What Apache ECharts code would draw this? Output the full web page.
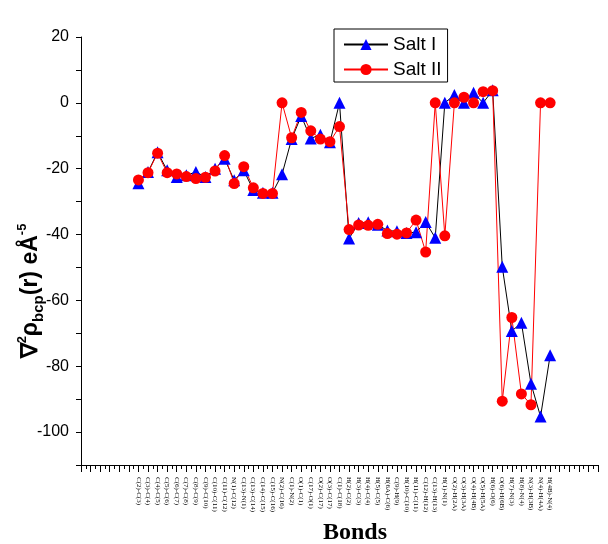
<!DOCTYPE html>
<html>
<head>
<meta charset="utf-8">
<script src="https://cdn.jsdelivr.net/npm/echarts@6/dist/echarts.min.js"></script>
<style>html,body{margin:0;padding:0;background:#fff;}#c{width:608px;height:544px;}</style>
</head>
<body>
<div id="c"></div>
<script>
const bonds = [
 'C(2)-C(3)','C(3)-C(4)','C(4)-C(5)','C(5)-C(6)','C(6)-C(7)','C(7)-C(8)','C(8)-C(9)','C(9)-C(10)',
 'C(10)-C(11)','C(11)-C(12)','N(1)-C(12)','C(13)-N(1)','C(13)-C(14)','C(14)-C(15)','C(15)-C(16)','N(2)-C(16)',
 'C(1)-N(2)','O(1)-C(1)','C(17)-O(1)','O(2)-C(17)','O(3)-C(17)','C(1)-C(18)','H(2)-C(2)','H(3)-C(3)',
 'H(4)-C(4)','H(5)-C(5)','H(6A)-C(6)','C(9)-H(9)','H(10)-C(10)','H(11)-C(11)','C(12)-H(12)','C(13)-H(13)',
 'H(1)-N(1)','O(2)-H(2A)','O(3)-H(3A)','O(4)-H(4B)','O(5)-H(5A)','H(6)-O(6)','O(6)-H(6B)','H(7)-N(3)',
 'H(8)-N(4)','N(3)-H(3B)','N(4)-H(4A)','H(4B)-N(4)'
];
const saltI = [
 -24.4,-21,-15,-20.5,-22.5,-22,-21,-22.5,-20,-17,-23.5,-20.5,-26.5,-27.3,-27.3,-21.7,
 -11,-4,-10.8,-9.7,-12,0,-41.2,-36.5,-36.3,-37,-38.8,-39,-39.5,-39.3,-36.2,-41,
 0,2.4,0,3.1,0,3.8,-49.8,-69.3,-66.8,-85.3,-95.3,-76.7
];
const saltII = [
 -23.4,-21.2,-15.3,-21.2,-21.6,-22.4,-23,-22.6,-20.7,-16,-24.5,-19.4,-25.8,-27.5,-27.5,0,
 -10.6,-2.9,-8.5,-11,-11.8,-7.2,-38.5,-37.1,-37.2,-36.9,-39.7,-39.9,-39.5,-35.6,-45.3,0,
 -40.4,0,1.7,0,3.4,3.7,-90.6,-65.2,-88.4,-91.7,0,0
];
const yTicks = [-100,-80,-60,-40,-20,0,20];
const offset = 6;

const sans = 'Liberation Sans, Arial, sans-serif';
const serif = 'Liberation Serif, Times New Roman, serif';
const chart = echarts.init(document.getElementById('c'), null, {renderer:'canvas'});
chart.setOption({
  backgroundColor:'#fff',
  animation:false,
  grid:{left:81, right:10, top:37, bottom:79},
  legend:{
    orient:'vertical', left:334, top:29,
    padding:[6,6,3,9], itemGap:6, itemWidth:44, itemHeight:14,
    borderColor:'#000', borderWidth:1, borderRadius:0,
    textStyle:{fontFamily:sans, fontSize:19, color:'#000'},
    data:['Salt I','Salt II']
  },
  xAxis:{
    type:'value', min:0, max:54, interval:1,
    axisLine:{onZero:false, lineStyle:{color:'#000', width:1}},
    axisTick:{show:true, length:7, lineStyle:{color:'#000', width:1}},
    minorTick:{show:true, splitNumber:2, length:4, lineStyle:{color:'#000', width:1}},
    splitLine:{show:false},
    axisLabel:{rotate:-90, margin:12, fontSize:7, fontFamily:serif, color:'#000',
      formatter:v => bonds[v-offset] || ''}
  },
  yAxis:{
    type:'value', min:-110, max:20, interval:10,
    axisLine:{show:true, onZero:false, lineStyle:{color:'#000', width:1}},
    axisTick:{show:true, length:5, lineStyle:{color:'#000'}},
    splitLine:{show:false},
    axisLabel:{fontSize:16, fontFamily:sans, color:'#000', margin:12,
      formatter:v => yTicks.includes(v) ? String(v) : ''}
  },
  graphic:[
    {type:'text', x:31, y:291, rotation:Math.PI/2,
     style:{text:'{n|∇}{sup|2}{n|ρ}{sub|bcp}{n|(r) eÅ}{sup|-5}', align:'center', verticalAlign:'middle',
       fill:'#000',
       rich:{
         n:{fontSize:23, fontWeight:'bold', fontFamily:sans, lineHeight:30, verticalAlign:'middle'},
         sup:{fontSize:13, fontWeight:'bold', fontFamily:sans, lineHeight:30, verticalAlign:'top'},
         sub:{fontSize:15, fontWeight:'bold', fontFamily:sans, lineHeight:30, verticalAlign:'bottom'}
       }}},
    {type:'text', x:355, y:533,
     style:{text:'Bonds', align:'center', verticalAlign:'middle', fill:'#000',
       fontSize:24, fontWeight:'bold', fontFamily:serif}}
  ],
  series:[
    {name:'Salt I', type:'line', data:saltI.map((v,i)=>[i+offset, v]),
     symbol:'triangle', symbolSize:12, showAllSymbol:true,
     lineStyle:{color:'#000', width:1}, itemStyle:{color:'#0000ff'}},
    {name:'Salt II', type:'line', data:saltII.map((v,i)=>[i+offset, v]),
     symbol:'circle', symbolSize:11, showAllSymbol:true,
     lineStyle:{color:'#ff0000', width:1}, itemStyle:{color:'#ff0000'}}
  ]
});
</script>
</body>
</html>
